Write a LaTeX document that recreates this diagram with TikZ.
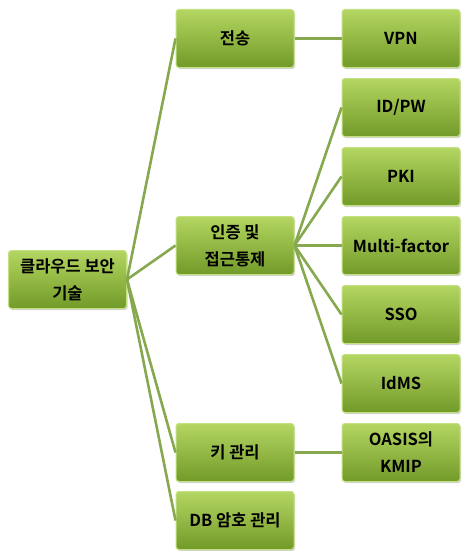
\documentclass[tikz,border=0pt]{standalone}
\usepackage{fontspec}
\usepackage{tikz}
\usetikzlibrary{shadows}
\newfontfamily\krfont{Noto Sans CJK KR Bold}
\definecolor{boxtop}{RGB}{180,214,98}
\definecolor{boxbot}{RGB}{114,154,40}
\definecolor{boxrim}{RGB}{196,224,128}
\definecolor{linkc}{RGB}{134,168,78}

\begin{document}
\begin{tikzpicture}[x=1pt,y=-1pt,
  box/.style = {draw=boxrim, line width=1pt, rounded corners=3pt, top color=boxtop, bottom color=boxbot,
    minimum width=118pt, minimum height=58pt, align=center, inner sep=2pt,
    font=\krfont\fontsize{16.5}{27}\selectfont,
    drop shadow={shadow xshift=1.2pt, shadow yshift=-1.5pt, opacity=0.35}},
  link/.style = {linkc, line width=2.6pt}]
\useasboundingbox (0,0) rectangle (461,551);
\node[box] (root) at (67.5,279.5) {클라우드 보안\\기술};
\node[box] (a) at (235,38.5) {전송};
\node[box] (b) at (235,245.5) {인증 및\\접근통제};
\node[box] (c) at (235,452.5) {키 관리};
\node[box] (d) at (235,520.5) {DB 암호 관리};
\node[box] (a1) at (401,38.5) {VPN};
\node[box] (b1) at (401,107.5) {ID/PW};
\node[box] (b2) at (401,176.5) {PKI};
\node[box] (b3) at (401,245.5) {Multi-factor};
\node[box] (b4) at (401,314.5) {SSO};
\node[box] (b5) at (401,383.5) {IdMS};
\node[box] (c1) at (401,452.5) {OASIS의\\KMIP};
\draw[link] (root.east) -- (a.west);
\draw[link] (root.east) -- (b.west);
\draw[link] (root.east) -- (c.west);
\draw[link] (root.east) -- (d.west);
\draw[link] (a.east) -- (a1.west);
\draw[link] (b.east) -- (b1.west);
\draw[link] (b.east) -- (b2.west);
\draw[link] (b.east) -- (b3.west);
\draw[link] (b.east) -- (b4.west);
\draw[link] (b.east) -- (b5.west);
\draw[link] (c.east) -- (c1.west);
\end{tikzpicture}
\end{document}
